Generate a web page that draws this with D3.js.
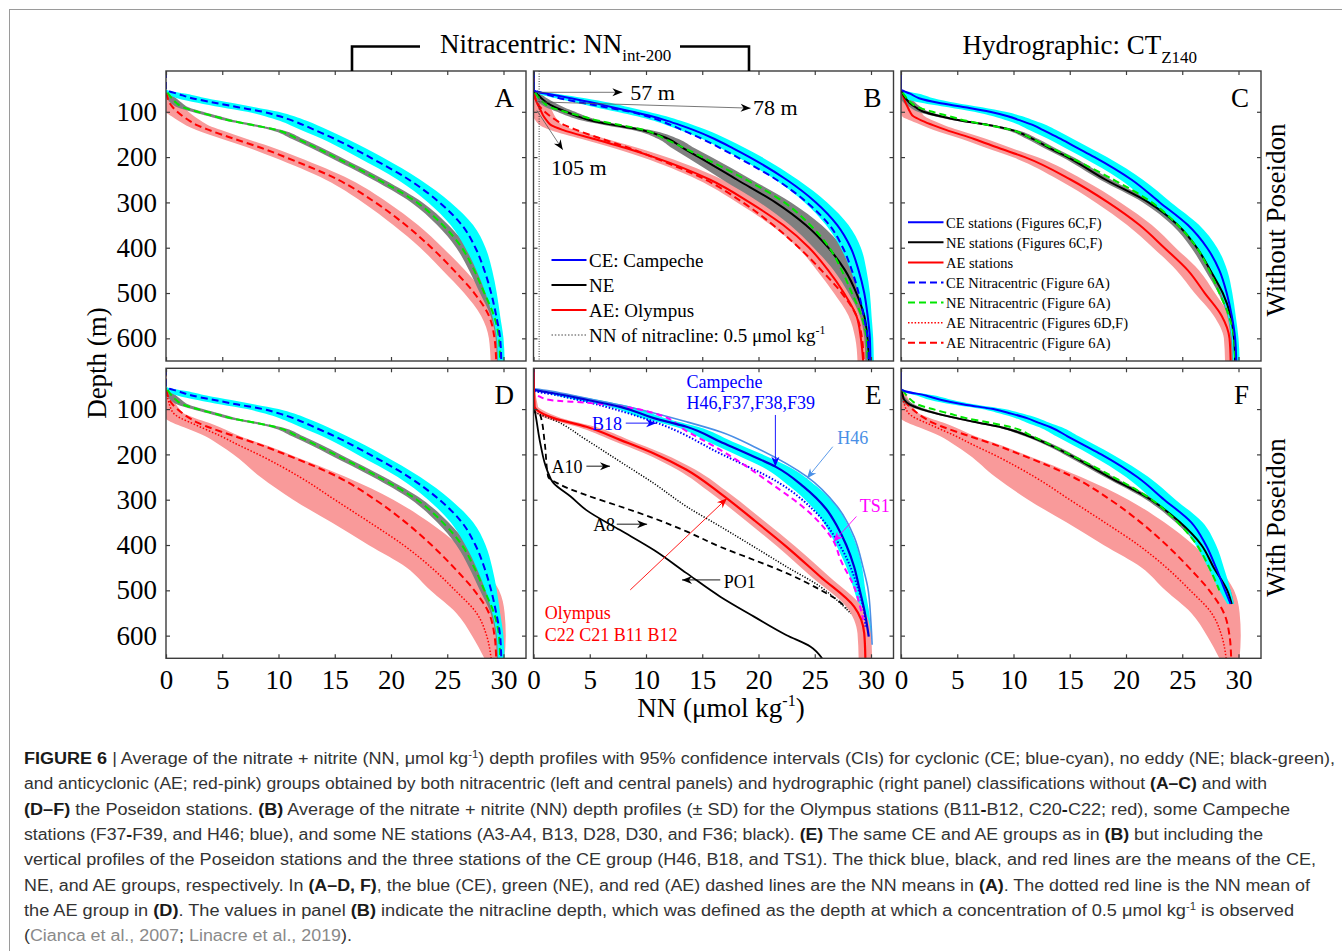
<!DOCTYPE html>
<html>
<head>
<meta charset="utf-8">
<script src="https://cdn.jsdelivr.net/npm/d3@7"></script>
<style>
  body { margin: 0; background: #fff; }
  svg { display: block; }
</style>
</head>
<body>
<div id="fig"></div>
<script>
// ---- data: nitrate + nitrite (NN, umol/kg) against depth (m) ----
var depthGrid = [10, 50, 55, 60, 70, 80, 90, 100, 110, 120, 130, 140, 160, 180, 200, 250, 300, 350, 400, 450, 500, 550, 600, 650];

// nitracentric means of panel A (the dashed lines used in A-D, F)
var ceA = [0, 0, 0.3, 1.0, 2.3, 4.3, 6.4, 8.6, 10.1, 11.3, 12.3, 13.2, 15.0, 16.6, 18.1, 21.6, 24.3, 26.3, 27.5, 28.3, 28.9, 29.35, 29.7, 29.8];
var neA = [0, 0, 0.05, 0.2, 0.5, 0.9, 1.5, 2.8, 4.3, 5.8, 7.9, 9.8, 11.7, 13.4, 15.0, 18.9, 22.3, 24.6, 26.3, 27.4, 28.3, 29.15, 29.6, 29.7];
var aeA = [0, 0, 0, 0.05, 0.15, 0.3, 0.6, 1.0, 1.5, 2.1, 2.8, 3.8, 6.1, 8.5, 10.6, 15.3, 18.6, 21.3, 23.6, 25.6, 27.4, 28.7, 29.2, 29.35];
var ceHw = [0, 0, 0.3, 0.8, 1.3, 1.5, 1.5, 1.4, 1.3, 1.2, 1.2, 1.2, 1.1, 1.1, 1.1, 1.0, 1.0, 1.0, 0.9, 0.7, 0.5, 0.35, 0.3, 0.3];
var neHw = [0, 0, 0.05, 0.2, 0.4, 0.5, 0.5, 0.5, 0.5, 0.5, 0.5, 0.5, 0.5, 0.5, 0.5, 0.5, 0.5, 0.5, 0.5, 0.45, 0.4, 0.3, 0.3, 0.3];
var aeHw = [0, 0, 0, 0.4, 0.7, 0.9, 1.0, 1.0, 1.0, 1.0, 1.0, 1.1, 1.1, 1.1, 1.1, 1.1, 1.1, 1.1, 1.0, 1.0, 0.9, 0.7, 0.5, 0.5];

// panel B: station subsets (+/- SD)
var ceB = [0, 0, 0.2, 1.2, 3.3, 5.3, 7.0, 8.8, 10.5, 11.9, 13.1, 14.2, 16.1, 17.7, 19.2, 22.5, 25.1, 27.0, 28.2, 28.9, 29.4, 29.7, 29.9, 29.95];
var neB = [0, 0, 0.05, 0.3, 0.7, 1.2, 1.9, 2.9, 3.9, 5.2, 7.3, 9.6, 12.0, 13.3, 14.7, 18.1, 21.5, 24.2, 26.2, 27.7, 28.7, 29.4, 29.7, 29.8];
var aeB = [0, 0, 0, 0.05, 0.15, 0.3, 0.5, 0.7, 0.9, 1.2, 1.6, 2.6, 5.4, 8.2, 10.7, 15.7, 19.2, 22.2, 24.5, 26.2, 27.6, 28.7, 29.1, 29.3];
var neBHw = [0, 0, 0.1, 0.3, 0.5, 0.7, 0.8, 0.8, 0.8, 0.8, 0.8, 0.8, 0.9, 1.0, 1.1, 1.3, 1.4, 1.4, 1.3, 1.0, 0.7, 0.4, 0.3, 0.3];

// panel C: hydrographic classification
var ceC = [0, 0, 0.3, 0.8, 1.6, 3.3, 5.7, 7.9, 9.5, 10.7, 11.8, 12.6, 14.2, 15.7, 17.2, 20.5, 23.0, 25.5, 27.2, 28.3, 28.95, 29.4, 29.7, 29.8];
var neC = [0, 0, 0.05, 0.15, 0.4, 0.75, 1.3, 2.0, 3.5, 5.4, 8.0, 9.8, 11.7, 13.2, 14.8, 18.2, 22.0, 24.6, 26.3, 27.5, 28.6, 29.3, 29.6, 29.7];
var aeC = [0, 0, 0.05, 0.1, 0.25, 0.4, 0.6, 0.8, 1.1, 1.9, 2.9, 4.0, 6.5, 8.7, 11.0, 15.1, 18.4, 21.2, 23.4, 25.5, 27.0, 28.5, 29.2, 29.3];

// panel D: AE group with Poseidon (dotted mean and its wide CI)
var aeD = [0, 0, 0, 0.05, 0.1, 0.2, 0.3, 0.45, 0.7, 1.3, 2.2, 3.1, 4.9, 6.5, 8.2, 11.9, 15.0, 18.1, 21.1, 23.6, 25.7, 27.6, 28.5, 28.9];
var aeDLo = [0, 0, 0, 0, 0, 0, 0, 0, 0, 0, 0.6, 1.6, 3.5, 4.8, 6.0, 8.4, 11.3, 14.7, 18.0, 21.4, 23.5, 25.8, 27.2, 28.3];
var aeDHi = [0, 0, 0.1, 0.3, 0.5, 0.7, 0.9, 1.2, 1.6, 2.6, 3.8, 4.8, 6.6, 8.9, 11.0, 16.0, 20.2, 23.4, 26.0, 28.2, 29.6, 30.1, 30.2, 30.1];

// panel F: hydrographic with Poseidon (CE and NE end near 530 m)
var depthF = [10, 50, 55, 60, 70, 80, 90, 100, 110, 120, 130, 140, 160, 180, 200, 250, 300, 350, 400, 450, 500, 530];
var ceF = [0, 0, 0, 0.3, 2.2, 3.6, 5.6, 8.2, 9.8, 11.2, 12.2, 13.3, 14.8, 16.3, 17.8, 21.0, 23.4, 25.8, 27.1, 28.0, 28.8, 29.3];
var neF = [0, 0, 0, 0.05, 0.15, 0.3, 0.8, 1.8, 3.2, 4.95, 6.9, 8.9, 11.4, 13.3, 14.9, 18.5, 22.2, 24.8, 26.7, 27.8, 29.0, 29.4];
var ceFHw = [0, 0, 0, 0.3, 0.8, 1.0, 1.0, 1.0, 1.0, 1.0, 1.0, 1.0, 1.0, 1.0, 1.0, 1.0, 1.0, 1.0, 0.9, 0.7, 0.5, 0.3];
var neFHw = [0, 0, 0, 0.05, 0.1, 0.3, 0.4, 0.4, 0.4, 0.4, 0.4, 0.4, 0.4, 0.4, 0.4, 0.4, 0.4, 0.4, 0.4, 0.4, 0.3, 0.2];

// panel E: groups and single stations
var ceEDepth = [10, 55, 58, 65, 80, 95, 120, 139, 172, 205, 227, 271, 320, 359, 400, 448, 500, 543, 602];
var ceE = [0, 0, 0.15, 1.8, 4.8, 7.7, 10.7, 13.6, 16.6, 19.6, 21.5, 24.0, 26.0, 27.0, 27.8, 28.5, 29.0, 29.4, 29.8];
var ceEHw = [0, 0, 0.1, 0.6, 1.0, 1.0, 1.0, 1.0, 1.1, 1.2, 1.2, 1.2, 1.1, 1.0, 0.9, 0.7, 0.5, 0.4, 0.3];
var aeEDepth = [10, 95, 102, 120, 139, 168, 198, 234, 286, 345, 404, 470, 536, 595, 650];
var aeE = [0, 0.1, 0.3, 1.8, 4.7, 7.7, 10.7, 13.6, 16.6, 19.6, 22.5, 25.5, 28.5, 29.4, 29.5];
var aeEHw = [0, 0.3, 0.5, 0.7, 0.8, 0.8, 0.8, 0.8, 0.8, 0.8, 0.8, 0.8, 0.7, 0.6, 0.6];
var h46Depth = [10, 54, 60, 75, 91, 128, 150, 183, 249, 315, 382, 450, 492, 573, 620];
var h46 = [0, 0, 1.5, 4.5, 7.7, 13.6, 16.6, 19.6, 24.3, 27.0, 28.5, 29.3, 29.7, 30.0, 30.1];
var b18Depth = [10, 58, 70, 84, 128, 198, 264, 323, 404, 492, 551, 580];
var b18 = [0, 0, 2.2, 4.7, 10.7, 16.6, 21.9, 24.9, 27.3, 28.8, 29.4, 29.5];
var ts1Depth = [10, 62, 72, 80, 86, 109, 150, 190, 264, 330, 393, 433, 492, 543, 565];
var ts1 = [0, 0, 0.5, 1.5, 4.7, 10.7, 13.7, 16.6, 21.1, 24.6, 26.7, 27.3, 28.5, 29.1, 29.3];
var po1Depth = [10, 91, 102, 175, 234, 264, 293, 323, 367, 411, 462, 514, 558, 599, 624, 650];
var po1 = [0, 0, 0.1, 0.6, 1.2, 1.8, 3.3, 4.7, 7.7, 10.7, 13.6, 16.6, 19.6, 22.5, 24.6, 25.65];
var a8Depth = [10, 105, 113, 175, 249, 267, 290, 315, 341, 370, 404, 433, 462, 499, 521, 540];
var a8 = [0, 0, 0.6, 1.0, 1.3, 2.4, 4.7, 7.7, 10.7, 13.6, 16.6, 19.6, 22.5, 25.5, 27.0, 27.8];
var a10Depth = [10, 105, 109, 124, 168, 216, 264, 315, 359, 404, 448, 492, 529, 551];
var a10 = [0, 0, 0.3, 1.8, 4.7, 7.7, 10.7, 13.6, 16.6, 19.6, 22.5, 25.5, 27.3, 28.2];

// axes and labels
var nnDomain = [0, 32];
var depthDomain = [10, 650];
var nnTicks = [0, 5, 10, 15, 20, 25, 30];
var depthTicks = [100, 200, 300, 400, 500, 600];
var panelLetters = ["A", "B", "C", "D", "E", "F"];

// panel B nitracline annotations: [NN, depth]
var nitraclineLabels = ["57 m", "78 m", "105 m"];
var nitraclineFrom = [[0.2, 57], [0.2, 78], [0.3, 97]];
var nitraclineTo = [[7.9, 57], [19.3, 92], [2.6, 184]];
var nitraclineText = [[8.6, 57], [19.5, 91], [1.55, 222]];

// panel E station labels
var eLabels = ["Campeche", "H46,F37,F38,F39", "B18", "H46", "TS1", "A10", "A8", "PO1", "Olympus", "C22 C21 B11 B12"];
var eLabelPos = [[13.6, 39], [13.6, 87], [5.2, 132], [27.0, 163], [29.0, 314], [1.6, 228], [5.3, 356], [16.9, 481], [1.0, 550], [1.0, 599]];
var eArrowFrom = [[21.5, 113], [8.2, 131], [26.6, 183], [28.7, 337], [4.7, 226], [7.4, 354], [16.6, 477], [8.6, 499]];
var eArrowTo = [[21.5, 227], [10.9, 131], [24.3, 253], [26.65, 393], [6.8, 226], [10.1, 354], [13.2, 477], [17.2, 297]];

var legendB = ["CE: Campeche", "NE", "AE: Olympus", "NN of nitracline: 0.5 \u03bcmol kg"];
var legendC = ["CE stations (Figures 6C,F)", "NE stations (Figures 6C,F)", "AE stations",
  "CE Nitracentric (Figure 6A)", "NE Nitracentric (Figure 6A)", "AE Nitracentric (Figures 6D,F)", "AE Nitracentric (Figure 6A)"];

// caption lines: [text, style]  (n normal, b bold, s superscript, l link)
var caption = [
  [["FIGURE 6", "b"], [" | Average of the nitrate + nitrite (NN, \u03bcmol kg", "n"], ["-1", "s"], [") depth profiles with 95% confidence intervals (CIs) for cyclonic (CE; blue-cyan), no eddy (NE; black-green),", "n"]],
  [["and anticyclonic (AE; red-pink) groups obtained by both nitracentric (left and central panels) and hydrographic (right panel) classifications without ", "n"], ["(A\u2013C)", "b"], [" and with", "n"]],
  [["(D\u2013F)", "b"], [" the Poseidon stations. ", "n"], ["(B)", "b"], [" Average of the nitrate + nitrite (NN) depth profiles (\u00b1 SD) for the Olympus stations (B11", "n"], ["-", "b"], ["B12, C20", "n"], ["-", "b"], ["C22; red), some Campeche", "n"]],
  [["stations (F37", "n"], ["-", "b"], ["F39, and H46; blue), and some NE stations (A3-A4, B13, D28, D30, and F36; black). ", "n"], ["(E)", "b"], [" The same CE and AE groups as in ", "n"], ["(B)", "b"], [" but including the", "n"]],
  [["vertical profiles of the Poseidon stations and the three stations of the CE group (H46, B18, and TS1). The thick blue, black, and red lines are the means of the CE,", "n"]],
  [["NE, and AE groups, respectively. In ", "n"], ["(A\u2013D, F)", "b"], [", the blue (CE), green (NE), and red (AE) dashed lines are the NN means in ", "n"], ["(A)", "b"], [". The dotted red line is the NN mean of", "n"]],
  [["the AE group in ", "n"], ["(D)", "b"], [". The values in panel ", "n"], ["(B)", "b"], [" indicate the nitracline depth, which was defined as the depth at which a concentration of 0.5 \u03bcmol kg", "n"], ["-1", "s"], [" is observed", "n"]],
  [["(", "n"], ["Cianca et al., 2007", "l"], ["; ", "n"], ["Linacre et al., 2019", "l"], [").", "n"]]
];
var captionEnds = [1335, 1267, 1290, 1263, 1316, 1310, 1294, 352];

// ---- drawing ----
var W = 1342, H = 951;
var serif = "'Liberation Serif', 'Times New Roman', Times, serif";
var sans = "'Liberation Sans Narrow', 'Liberation Sans', Arial, sans-serif";
var col = { blue: "#0000ff", black: "#000000", red: "#ff0000", green: "#00e600", cyan: "#00ffff",
  gray: "#808080", pink: "#f99a9a", light: "#4a8fe6", magenta: "#ff00ff", dark: "#0000d8" };

var svg = d3.select("#fig").append("svg").attr("width", W).attr("height", H);
var defs = svg.append("defs");

svg.append("rect").attr("x", 9.5).attr("y", 9.5).attr("width", W).attr("height", H)
  .attr("fill", "none").attr("stroke", "#9a9a9a").attr("stroke-width", 1);

function arrowMarker(id, color) {
  defs.append("marker").attr("id", id)
    .attr("viewBox", "-11 -5 12 10").attr("refX", 0).attr("refY", 0)
    .attr("markerWidth", 12).attr("markerHeight", 10)
    .attr("markerUnits", "userSpaceOnUse").attr("orient", "auto")
    .append("path").attr("d", "M0,0L-10,-4L-7,0L-10,4Z").attr("fill", color);
}
arrowMarker("ah-black", col.black);
arrowMarker("ah-blue", col.blue);
arrowMarker("ah-light", col.light);
arrowMarker("ah-magenta", col.magenta);
arrowMarker("ah-red", col.red);

var colLeft = [166, 533.5, 901], rowTop = [71, 368.3], panelW = 360, panelH = 290;

function makePanel(i) {
  var c = i % 3, r = Math.floor(i / 3);
  var x0 = colLeft[c], y0 = rowTop[r];
  var p = {
    c: c, r: r, letter: panelLetters[i],
    x: d3.scaleLinear().domain(nnDomain).range([x0, x0 + panelW]),
    y: d3.scaleLinear().domain(depthDomain).range([y0, y0 + panelH])
  };
  defs.append("clipPath").attr("id", "clip" + i).append("rect")
    .attr("x", x0).attr("y", y0).attr("width", panelW).attr("height", panelH);
  p.g = svg.append("g");
  p.plot = p.g.append("g").attr("clip-path", "url(#clip" + i + ")");
  return p;
}

function drawBand(p, depths, lo, hi, color) {
  var pts = depths.map(function(d, i) { return { depth: d, lo: Math.max(0, lo[i]), hi: hi[i] }; });
  var area = d3.area()
    .y(function(d) { return p.y(d.depth); })
    .x0(function(d) { return p.x(d.lo); })
    .x1(function(d) { return p.x(d.hi); })
    .curve(d3.curveMonotoneY);
  p.plot.append("path").datum(pts).attr("d", area).attr("fill", color).attr("stroke", "none");
}

function drawBandHw(p, depths, mean, hw, color) {
  drawBand(p, depths,
    mean.map(function(v, i) { return v - hw[i]; }),
    mean.map(function(v, i) { return v + hw[i]; }), color);
}

function drawLine(p, depths, vals, style, maxDepth) {
  var pts = depths.map(function(d, i) { return { depth: d, nn: vals[i] }; })
    .filter(function(d) { return maxDepth == null || d.depth <= maxDepth; });
  var line = d3.line()
    .x(function(d) { return p.x(d.nn); })
    .y(function(d) { return p.y(d.depth); })
    .curve(d3.curveMonotoneY);
  p.plot.append("path").datum(pts).attr("d", line)
    .attr("fill", "none").attr("stroke", style.color).attr("stroke-width", style.width)
    .attr("stroke-dasharray", style.dash || null).attr("stroke-linejoin", "round");
}

function solid(c, w) { return { color: c, width: w || 2 }; }
function dashed(c) { return { color: c, width: 2, dash: "7,4" }; }
function dotted(c, w) { return { color: c, width: w || 1.5, dash: "1.5,1.8" }; }

function arrow(p, from, to, color, marker, width) {
  p.g.append("line")
    .attr("x1", p.x(from[0])).attr("y1", p.y(from[1]))
    .attr("x2", p.x(to[0])).attr("y2", p.y(to[1]))
    .attr("stroke", color).attr("stroke-width", width || 0.9)
    .attr("marker-end", "url(#" + marker + ")");
}

function label(p, text, pos, color, size) {
  p.g.append("text").attr("x", p.x(pos[0])).attr("y", p.y(pos[1])).attr("dy", "0.34em")
    .attr("font-family", serif).attr("font-size", size).attr("fill", color).text(text);
}

function finishPanel(p) {
  var x0 = colLeft[p.c], y0 = rowTop[p.r];
  var ax = p.g.append("g");
  ax.append("g").attr("transform", "translate(0," + (y0 + panelH) + ")")
    .call(d3.axisBottom(p.x).tickValues(nnTicks).tickSize(-4).tickPadding(12)
      .tickFormat(p.r === 1 ? d3.format("d") : function() { return ""; }));
  ax.append("g").attr("transform", "translate(0," + y0 + ")")
    .call(d3.axisTop(p.x).tickValues(nnTicks).tickSize(-4).tickFormat(function() { return ""; }));
  ax.append("g").attr("transform", "translate(" + x0 + ",0)")
    .call(d3.axisLeft(p.y).tickValues(depthTicks).tickSize(-4).tickPadding(9)
      .tickFormat(p.c === 0 ? d3.format("d") : function() { return ""; }));
  ax.append("g").attr("transform", "translate(" + (x0 + panelW) + ",0)")
    .call(d3.axisRight(p.y).tickValues(depthTicks).tickSize(-4).tickFormat(function() { return ""; }));
  ax.selectAll(".domain").remove();
  ax.selectAll(".tick line").attr("stroke", "#3c3c3c").attr("stroke-width", 1.2);
  ax.selectAll(".tick text").attr("font-family", serif).attr("font-size", 27).attr("fill", "#000");
  p.g.append("rect").attr("x", x0).attr("y", y0).attr("width", panelW).attr("height", panelH)
    .attr("fill", "none").attr("stroke", "#3c3c3c").attr("stroke-width", 1.4);
  p.g.append("text").attr("x", x0 + 348).attr("y", y0 + 36).attr("text-anchor", "end")
    .attr("font-family", serif).attr("font-size", 27).attr("fill", "#000").text(p.letter);
}

function legendRow(g, x1, x2, y, style, text, fs, sup) {
  g.append("line").attr("x1", x1).attr("x2", x2).attr("y1", y).attr("y2", y)
    .attr("stroke", style.color).attr("stroke-width", style.width)
    .attr("stroke-dasharray", style.dash || null);
  var t = g.append("text").attr("x", x2 + 2.5).attr("y", y + fs * 0.36)
    .attr("font-family", serif).attr("font-size", fs).attr("fill", "#000").text(text);
  if (sup) t.append("tspan").attr("font-size", fs * 0.62).attr("dy", -fs * 0.4).text(sup);
}

var P = d3.range(6).map(makePanel);

// A
(function(p) {
  drawBandHw(p, depthGrid, aeA, aeHw, col.pink);
  drawBandHw(p, depthGrid, neA, neHw, col.gray);
  drawBandHw(p, depthGrid, ceA, ceHw, col.cyan);
  drawLine(p, depthGrid, aeA, dashed(col.red));
  drawLine(p, depthGrid, neA, dashed(col.green));
  drawLine(p, depthGrid, ceA, dashed(col.blue));
  finishPanel(p);
})(P[0]);

// B
(function(p) {
  drawBandHw(p, depthGrid, aeB, aeHw, col.pink);
  drawBandHw(p, depthGrid, neB, neBHw, col.gray);
  drawBandHw(p, depthGrid, ceB, ceHw, col.cyan);
  drawLine(p, depthGrid, aeB, solid(col.red));
  drawLine(p, depthGrid, aeA, dashed(col.red));
  drawLine(p, depthGrid, neB, solid(col.black));
  drawLine(p, depthGrid, neA, dashed(col.green));
  drawLine(p, depthGrid, ceA, dashed(col.blue));
  drawLine(p, depthGrid, ceB, solid(col.blue));
  // nitracline threshold 0.5 umol/kg
  p.plot.append("line").attr("x1", p.x(0.5)).attr("x2", p.x(0.5))
    .attr("y1", p.y(depthDomain[0])).attr("y2", p.y(depthDomain[1]))
    .attr("stroke", "#333").attr("stroke-width", 1).attr("stroke-dasharray", "1,1.5");
  nitraclineLabels.forEach(function(t, i) {
    arrow(p, nitraclineFrom[i], nitraclineTo[i], "#555", "ah-black", 0.8);
    label(p, t, nitraclineText[i], "#000", 22);
  });
  var styles = [solid(col.blue), solid(col.black), solid(col.red), dotted("#444", 1)];
  legendB.forEach(function(t, i) {
    legendRow(p.g, 551.5, 586.5, 260 + 25 * i, styles[i], t, 19, i === 3 ? "-1" : null);
  });
  finishPanel(p);
})(P[1]);

// C
(function(p) {
  drawBandHw(p, depthGrid, aeC, aeHw, col.pink);
  drawBandHw(p, depthGrid, neC, neHw, col.gray);
  drawBandHw(p, depthGrid, ceC, ceHw, col.cyan);
  drawLine(p, depthGrid, aeC, solid(col.red));
  drawLine(p, depthGrid, neC, solid(col.black));
  drawLine(p, depthGrid, neA, dashed(col.green));
  drawLine(p, depthGrid, ceC, solid(col.blue));
  var styles = [solid(col.blue), solid(col.black), solid(col.red), dashed(col.blue),
    dashed(col.green), dotted(col.red), dashed(col.red)];
  legendC.forEach(function(t, i) {
    legendRow(p.g, 908, 943.5, 222.3 + 20.07 * i, styles[i], t, 14.5, null);
  });
  finishPanel(p);
})(P[2]);

// D
(function(p) {
  drawBand(p, depthGrid, aeDLo, aeDHi, col.pink);
  drawBandHw(p, depthGrid, neA, neHw, col.gray);
  drawBandHw(p, depthGrid, ceA, ceHw, col.cyan);
  drawLine(p, depthGrid, aeD, dotted(col.red));
  drawLine(p, depthGrid, aeA, dashed(col.red));
  drawLine(p, depthGrid, neA, dashed(col.green));
  drawLine(p, depthGrid, ceA, dashed(col.blue));
  finishPanel(p);
})(P[3]);

// E
(function(p) {
  drawBandHw(p, ceEDepth, ceE, ceEHw, col.cyan);
  drawBandHw(p, aeEDepth, aeE, aeEHw, col.pink);
  drawLine(p, po1Depth, po1, solid(col.black, 1.8));
  drawLine(p, a8Depth, a8, { color: col.black, width: 1.8, dash: "6,4" });
  drawLine(p, a10Depth, a10, { color: col.black, width: 1.5, dash: "1.2,1.6" });
  drawLine(p, h46Depth, h46, solid(col.light, 1.6));
  drawLine(p, b18Depth, b18, dotted(col.blue, 2));
  drawLine(p, ts1Depth, ts1, { color: col.magenta, width: 2, dash: "6,4" });
  drawLine(p, ceEDepth, ceE, solid(col.dark, 2.2));
  drawLine(p, aeEDepth, aeE, solid(col.red, 2.2));
  var labelColors = [col.blue, col.blue, col.blue, col.light, col.magenta, col.black, col.black, col.black, col.red, col.red];
  eLabels.forEach(function(t, i) { label(p, t, eLabelPos[i], labelColors[i], 18); });
  var arrowColors = [col.blue, col.blue, col.light, col.magenta, col.black, col.black, col.black, col.red];
  var arrowMarkers = ["ah-blue", "ah-blue", "ah-light", "ah-magenta", "ah-black", "ah-black", "ah-black", "ah-red"];
  eArrowFrom.forEach(function(f, i) { arrow(p, f, eArrowTo[i], arrowColors[i], arrowMarkers[i], 0.9); });
  finishPanel(p);
})(P[4]);

// F
(function(p) {
  drawBand(p, depthGrid, aeDLo, aeDHi, col.pink);
  drawBandHw(p, depthF, neF, neFHw, col.gray);
  drawBandHw(p, depthF, ceF, ceFHw, col.cyan);
  drawLine(p, depthGrid, aeD, dotted(col.red));
  drawLine(p, depthGrid, aeA, dashed(col.red));
  drawLine(p, depthF, neF, solid(col.black));
  drawLine(p, depthGrid, neA, dashed(col.green), 500);
  drawLine(p, depthF, ceF, solid(col.blue));
  finishPanel(p);
})(P[5]);

// column titles with brackets
var t1 = svg.append("text").attr("x", 440).attr("y", 53).attr("font-family", serif).attr("font-size", 27).text("Nitracentric: NN");
t1.append("tspan").attr("font-size", 17).attr("dy", 8).text("int-200");
var t2 = svg.append("text").attr("x", 962.5).attr("y", 54).attr("font-family", serif).attr("font-size", 27).text("Hydrographic: CT");
t2.append("tspan").attr("font-size", 17).attr("dy", 9).text("Z140");
svg.append("path").attr("d", "M352,71V46.5H420").attr("fill", "none").attr("stroke", "#000").attr("stroke-width", 2.6);
svg.append("path").attr("d", "M680,46.5H749V71").attr("fill", "none").attr("stroke", "#000").attr("stroke-width", 2.6);

// axis titles and row labels
svg.append("text").attr("transform", "translate(106,363) rotate(-90)").attr("text-anchor", "middle")
  .attr("font-family", serif).attr("font-size", 27).text("Depth (m)");
var xl = svg.append("text").attr("x", 721).attr("y", 717).attr("text-anchor", "middle")
  .attr("font-family", serif).attr("font-size", 27).text("NN (\u03bcmol kg");
xl.append("tspan").attr("font-size", 16).attr("dy", -11).text("-1");
xl.append("tspan").attr("dy", 11).text(")");
svg.append("text").attr("transform", "translate(1285,220) rotate(-90)").attr("text-anchor", "middle")
  .attr("font-family", serif).attr("font-size", 27).text("Without Poseidon");
svg.append("text").attr("transform", "translate(1285,517.5) rotate(-90)").attr("text-anchor", "middle")
  .attr("font-family", serif).attr("font-size", 27).text("With Poseidon");

// caption
caption.forEach(function(segs, i) {
  var t = svg.append("text").attr("x", 24).attr("y", 764 + i * 25.3)
    .attr("font-family", sans).attr("font-size", 16).attr("fill", "#333")
    .attr("textLength", captionEnds[i] - 24).attr("lengthAdjust", "spacingAndGlyphs");
  var lift = 0;
  segs.forEach(function(s) {
    var ts = t.append("tspan").text(s[0]);
    if (lift) { ts.attr("dy", lift); lift = 0; }
    if (s[1] === "b") ts.attr("font-weight", "bold").attr("fill", "#1a1a1a");
    if (s[1] === "l") ts.attr("fill", "#8a8a8a");
    if (s[1] === "s") { ts.attr("font-size", 10).attr("dy", -6); lift = 6; }
  });
});
</script>
</body>
</html>
